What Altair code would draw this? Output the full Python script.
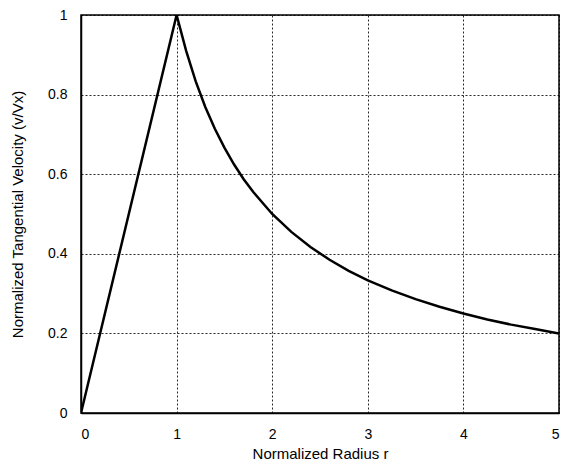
import altair as alt
import pandas as pd

r_values = [0.0, 1.0, 1.1, 1.2, 1.3, 1.4, 1.5, 1.6, 1.7, 1.8, 2.0, 2.2, 2.4, 2.6, 2.8, 3.0, 3.25, 3.5, 3.75, 4.0, 4.25, 4.5, 4.75, 5.0]
v_values = [0.0, 1.0, 0.91, 0.833, 0.769, 0.714, 0.667, 0.625, 0.588, 0.556, 0.5, 0.455, 0.417, 0.385, 0.357, 0.333, 0.308, 0.286, 0.267, 0.25, 0.235, 0.222, 0.211, 0.2]

x_ticks = [0, 1, 2, 3, 4, 5]
y_ticks = [0, 0.2, 0.4, 0.6, 0.8, 1]

df = pd.DataFrame({"r": r_values, "v": v_values, "order": list(range(len(r_values)))})

FONT = "Liberation Sans"

chart = alt.Chart(df).mark_line(color="black", strokeWidth=2.5, clip=True).encode(
    x=alt.X("r:Q", scale=alt.Scale(domain=[0, 5], nice=False, zero=False),
            axis=alt.Axis(values=x_ticks, title="Normalized Radius r", format="d",
                          labelPadding=14, titlePadding=5)),
    y=alt.Y("v:Q", scale=alt.Scale(domain=[0, 1], nice=False),
            axis=alt.Axis(values=y_ticks, title="Normalized Tangential Velocity (v/Vx)",
                          format="~g", labelPadding=14, titlePadding=22)),
    order="order:Q",
).properties(
    width=478,
    height=398,
    autosize=alt.AutoSizeParams(type="none"),
    padding={"left": 73, "top": 7, "right": 2, "bottom": 51},
).configure_axis(
    labelFont=FONT,
    titleFont=FONT,
    labelFontSize=14,
    titleFontSize=15,
    titleFontWeight="normal",
    labelColor="black",
    titleColor="black",
    ticks=False,
    domainColor="black",
    domainWidth=1.5,
    grid=True,
    gridColor="black",
    gridDash=[2, 2],
    gridWidth=1,
    gridOpacity=0.85,
).configure_view(
    stroke="black",
    strokeWidth=1.5,
)

chart.save("out.html", embed_options={"renderer": "svg", "actions": False})
